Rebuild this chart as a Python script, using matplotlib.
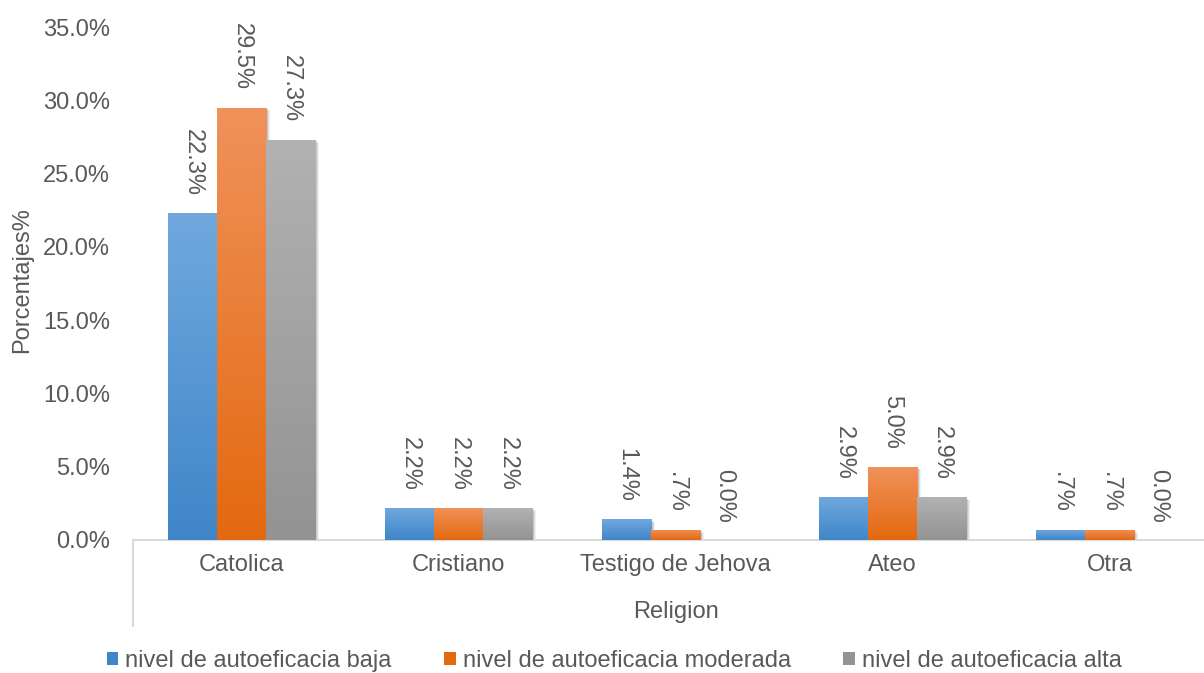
import matplotlib
matplotlib.use("Agg")
import matplotlib.pyplot as plt
import numpy as np
from matplotlib.colors import LinearSegmentedColormap
from matplotlib.patches import Patch
from matplotlib.lines import Line2D
import matplotlib.transforms as mtransforms

plt.rcParams['font.family'] = ['Liberation Sans', 'DejaVu Sans']

categories = ["Catolica", "Cristiano", "Testigo de Jehova", "Ateo", "Otra"]
series_names = ["nivel de autoeficacia baja",
                "nivel de autoeficacia moderada",
                "nivel de autoeficacia alta"]
baja = [22.3, 2.2, 1.4, 2.9, 0.7]
moderada = [29.5, 2.2, 0.7, 5.0, 0.7]
alta = [27.3, 2.2, 0.0, 2.9, 0.0]
y_ticks = [0, 5, 10, 15, 20, 25, 30, 35]

# (bottom colour, top colour) of each gradient
grads = [("#3f86c9", "#70a8de"), ("#e3690f", "#f0925b"), ("#939393", "#b2b2b2")]
txt = "#595959"

def fmt(v):
    s = "%.1f%%" % v
    if 0 < v < 1:
        s = s[1:]
    return s

fig = plt.figure(figsize=(12.04, 6.73), dpi=100)
ax = fig.add_axes([133 / 1204, 133 / 673, 1085 / 1204, 513 / 673])

x = np.arange(len(categories))
w = 0.226
grad = np.linspace(0, 1, 256).reshape(-1, 1)
for i, vals in enumerate([baja, moderada, alta]):
    xs = x + (i - 1) * w
    bars = ax.bar(xs, vals, w, color=grads[i][0], linewidth=0, zorder=2)
    cmap = LinearSegmentedColormap.from_list("g%d" % i, list(grads[i]))
    for b, v in zip(bars, vals):
        if v <= 0:
            continue
        # soft shadow to the right
        for k, a in [(4, 0.06), (3, 0.08), (2, 0.1)]:
            sh = mtransforms.offset_copy(ax.transData, fig=fig, x=k * 0.72, y=-k * 0.5, units='points')
            ax.add_patch(plt.Rectangle(b.get_xy(), b.get_width(), b.get_height(),
                                       transform=sh, color="#000000", alpha=a, lw=0, zorder=1))
        x0, y0 = b.get_xy()
        im = ax.imshow(grad, cmap=cmap, origin='lower', aspect='auto',
                       extent=[x0, x0 + b.get_width(), y0, y0 + b.get_height()], zorder=3)
        im.set_clip_path(b)
    for xi, v in zip(xs, vals):
        ax.annotate(fmt(v), (xi, v), xytext=(0, 12.5), textcoords='offset points',
                    rotation=270, ha='center', va='bottom', fontsize=17, color=txt)

ax.set_xlim(-0.5, len(categories) - 0.5)
ax.set_ylim(0, 35)
ax.set_yticks(y_ticks)
ax.set_yticklabels(["%.1f%%" % t for t in y_ticks])
ax.set_xticks(x)
ax.set_xticklabels(categories)
ax.tick_params(axis='both', length=0, labelsize=17, labelcolor=txt)
ax.tick_params(axis='y', pad=16.5)
ax.tick_params(axis='x', pad=10)
for s in ['top', 'right', 'left']:
    ax.spines[s].set_visible(False)
ax.spines['bottom'].set_color("#d9d9d9")
ax.spines['bottom'].set_linewidth(1.5)
ax.add_line(Line2D([0, 0], [0, -86 / 513], transform=ax.transAxes, color="#d9d9d9",
                   lw=1.5, clip_on=False))

fig.text(22 / 1204, 1 - 280 / 673, "Porcentajes%", rotation=90, ha='center', va='center',
         fontsize=17, color=txt)
fig.text(676 / 1204, 1 - 612 / 673, "Religion", ha='center', va='center', fontsize=17, color=txt)

handles = [Patch(facecolor=g[0], edgecolor='none') for g in grads]
leg = fig.legend(handles, series_names, loc='center', bbox_to_anchor=(614 / 1204, 1 - 661 / 673),
                 ncol=3, frameon=False, fontsize=17, handlelength=0.5, handleheight=0.5,
                 handletextpad=0.3, columnspacing=2.2, borderpad=0)
for t in leg.get_texts():
    t.set_color(txt)

fig.savefig("out.png", dpi=100)
